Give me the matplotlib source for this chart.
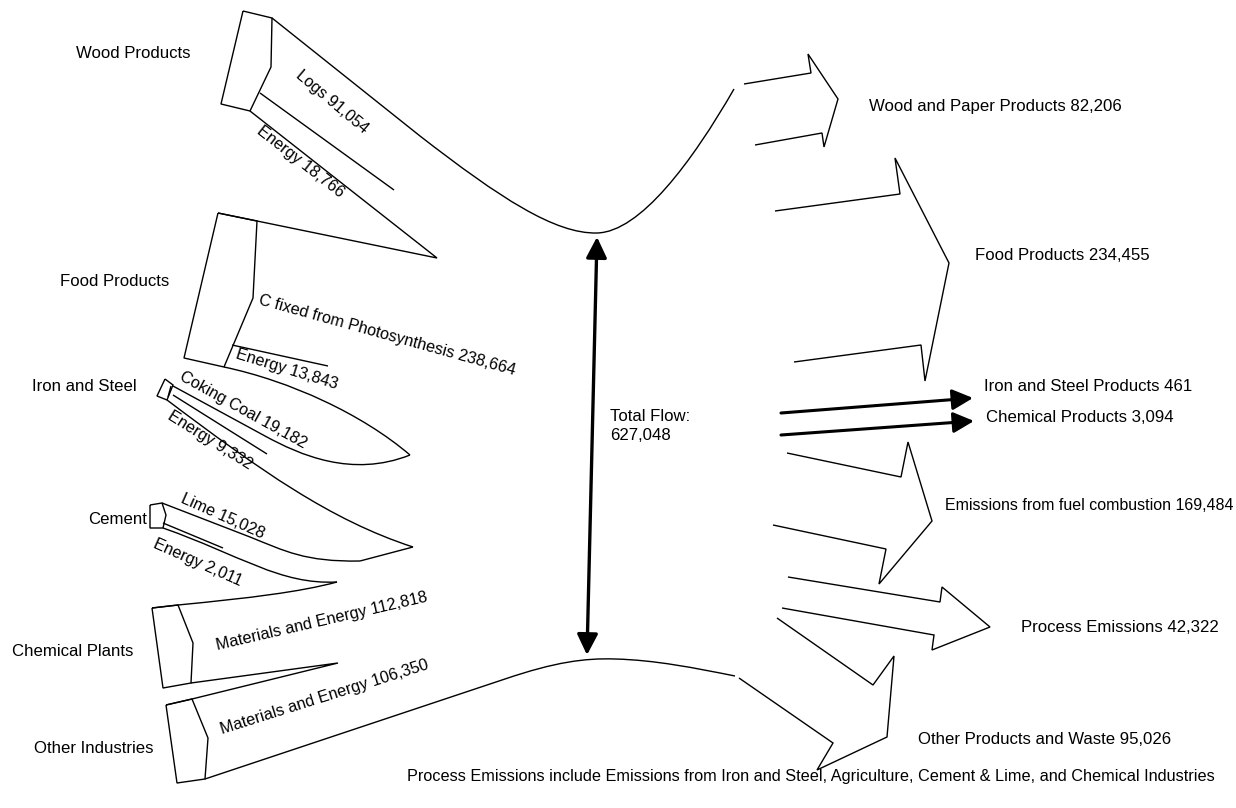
import matplotlib
matplotlib.use("Agg")
import matplotlib.pyplot as plt
from matplotlib.path import Path
from matplotlib.patches import PathPatch, FancyArrowPatch

# ---------------- data ----------------
source_names = ["Wood Products", "Food Products", "Iron and Steel", "Cement",
                "Chemical Plants", "Other Industries"]
inflow_names = ["Logs", "Energy", "C fixed from Photosynthesis", "Energy",
                "Coking Coal", "Energy", "Lime", "Energy",
                "Materials and Energy", "Materials and Energy"]
inflow_values = [91054, 18766, 238664, 13843, 19182, 9332, 15028, 2011, 112818, 106350]
sink_names = ["Wood and Paper Products", "Food Products", "Iron and Steel Products",
              "Chemical Products", "Emissions from fuel combustion",
              "Process Emissions", "Other Products and Waste"]
sink_values = [82206, 234455, 461, 3094, 169484, 42322, 95026]
total_flow = 627048
footnote = ("Process Emissions include Emissions from Iron and Steel, Agriculture, "
            "Cement & Lime, and Chemical Industries")

plt.rcParams['font.family'] = ['Liberation Sans', 'DejaVu Sans']

fig = plt.figure(figsize=(12.36, 8.08), dpi=100)
ax = fig.add_axes([0, 0, 1, 1])
ax.set_xlim(0, 1236)
ax.set_ylim(808, 0)
ax.axis('off')

LW = 1.0


def draw(ops, lw=LW):
    verts, codes = [], []
    for op in ops:
        if op[0] == 'M':
            verts.append(op[1]); codes.append(Path.MOVETO)
        elif op[0] == 'L':
            verts.append(op[1]); codes.append(Path.LINETO)
        elif op[0] == 'C':
            verts += [op[1], op[2], op[3]]
            codes += [Path.CURVE4] * 3
    ax.add_patch(PathPatch(Path(verts, codes), fill=False, ec='black', lw=lw,
                           joinstyle='miter', capstyle='butt'))


def poly(pts, closed=False):
    ops = [('M', pts[0])] + [('L', p) for p in pts[1:]]
    if closed:
        ops.append(('L', pts[0]))
    draw(ops)


# ---------------- left side (sources) ----------------
# Wood products box and flows
poly([(243, 11), (272, 18), (271, 67), (250, 111), (221, 104)], closed=True)
draw([('M', (272, 18)), ('L', (420, 136)),
      ('C', (500, 198), (555, 234), (597, 233)),
      ('C', (640, 232), (692, 162), (734, 89))])
poly([(260, 93), (394, 190)])
poly([(250, 111), (437, 258), (257, 221), (218, 213)])

# Food products
poly([(218, 213), (257, 221), (253, 298), (224, 367), (184, 358)], closed=True)
poly([(232, 345), (328, 366)])
draw([('M', (224, 367)), ('C', (290, 381), (362, 414), (410, 455))])

# Iron and steel
draw([('M', (410, 455)), ('C', (352, 478), (300, 455), (265, 436)), ('L', (173, 386))])
poly([(165, 379), (173, 385), (167, 400), (157, 396)], closed=True)
poly([(171, 386), (168, 397)])
poly([(173, 395), (267, 454)])
draw([('M', (167, 400)), ('C', (260, 470), (330, 520), (413, 547))])

# Cement
poly([(413, 547), (360, 561)])
draw([('M', (360, 561)), ('C', (305, 562), (285, 551), (250, 537)), ('L', (162, 503))])
poly([(150, 505), (162, 503), (166, 515), (163, 528), (150, 528)], closed=True)
poly([(163, 523), (223, 548)])
draw([('M', (163, 528)), ('C', (240, 555), (280, 585), (337, 582))])

# Chemical plants
draw([('M', (337, 582)), ('C', (300, 592), (250, 598), (178, 605)), ('L', (152, 608))])
poly([(152, 608), (178, 605), (193, 643), (191, 683), (163, 688)], closed=True)
poly([(191, 683), (338, 663), (192, 699), (166, 705)])

# Other industries
poly([(166, 705), (192, 699), (208, 738), (205, 779), (177, 783)], closed=True)
draw([('M', (205, 779)), ('L', (505, 679)),
      ('C', (555, 662), (585, 658), (615, 659)),
      ('C', (655, 660), (695, 668), (735, 676))])

# ---------------- right side (sinks) ----------------
poly([(744, 84), (811, 73), (808, 54), (838, 99), (824, 147), (822, 133), (755, 145)])
poly([(775, 211), (900, 194), (895, 158), (949, 263), (925, 381), (921, 345), (794, 362)])
poly([(787, 453), (901, 477), (908, 442), (932, 521), (879, 584), (886, 549), (773, 525)])
poly([(788, 577), (940, 602), (942, 587), (990, 627), (932, 650), (934, 635), (782, 608)])
poly([(777, 618), (873, 685), (894, 656), (887, 737), (817, 770), (833, 743), (739, 678)])

for (x0, y0), (x1, y1) in [((781, 413), (973, 398)), ((781, 435), (974, 421))]:
    ax.add_patch(FancyArrowPatch((x0, y0), (x1, y1), arrowstyle='-|>,head_length=9,head_width=4.5',
                                 lw=2.2, color='black', shrinkA=0, shrinkB=0,
                                 mutation_scale=1.4))

# total flow double arrow
ax.add_patch(FancyArrowPatch((587, 655), (597, 237), arrowstyle='<|-|>,head_length=9,head_width=4.5',
                             lw=2.4, color='black', shrinkA=0, shrinkB=0, mutation_scale=1.4))

# ---------------- text ----------------
FS = 12.1
src_pos = [(76, 58), (60, 286), (32, 391), (88, 524), (12, 656), (34, 753)]
for name, (x, y) in zip(source_names, src_pos):
    ax.text(x, y, name, fontsize=FS, ha='left', va='baseline')

FR = 11.7
in_pos = [(332, 102, -40), (300, 162, -38), (387, 335, -15.5), (287, 369, -17),
          (243, 410, -29), (210, 440, -32), (223, 516, -24), (198, 563, -24),
          (322, 621, 13), (324, 697, 17.5)]
for name, val, (x, y, r) in zip(inflow_names, inflow_values, in_pos):
    ax.text(x, y, f"{name} {val:,}", fontsize=FR, ha='center', va='center',
            rotation=r, rotation_mode='anchor')

# (left x, baseline y, font size)
sink_pos = [(869, 111, FS), (975, 260, FS), (984, 391, FS), (986, 422, FS),
            (945, 510, 11.5), (1021, 632, FS), (918, 744, FS)]
for name, val, (x, y, fs) in zip(sink_names, sink_values, sink_pos):
    ax.text(x, y, f"{name} {val:,}", fontsize=fs, ha='left', va='baseline')

ax.text(610, 421, "Total Flow:", fontsize=FS, ha='left', va='baseline')
ax.text(610, 440, f"{total_flow:,}", fontsize=FS, ha='left', va='baseline')

ax.text(811, 777, footnote, fontsize=11.7, ha='center', va='center')

fig.savefig("out.png", dpi=100, facecolor='white')
